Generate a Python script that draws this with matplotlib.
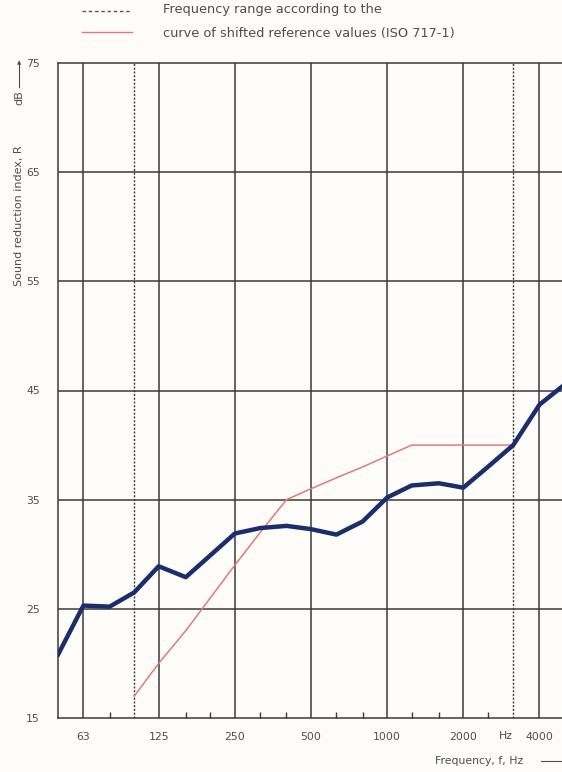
import numpy as np
import matplotlib.pyplot as plt
from matplotlib.ticker import FixedLocator, NullFormatter

# third-octave band centre frequencies, Hz
freqs = [50, 63, 80, 100, 125, 160, 200, 250, 315, 400, 500, 630, 800,
         1000, 1250, 1600, 2000, 2500, 3150, 4000, 5000]
# measured sound reduction index R, dB
r_meas = [20.8, 25.3, 25.2, 26.5, 28.9, 27.9, 29.9, 31.9, 32.4, 32.6, 32.3,
          31.8, 33.0, 35.2, 36.3, 36.5, 36.1, 38.0, 40.0, 43.7, 45.5]
# shifted reference curve (ISO 717-1), 100..3150 Hz
ref_freqs = [100, 125, 160, 200, 250, 315, 400, 500, 630, 800, 1000, 1250,
             1600, 2000, 2500, 3150]
r_ref = [17, 20, 23, 26, 29, 32, 35, 36, 37, 38, 39, 40, 40, 40, 40, 40]

octave_ticks = [63, 125, 250, 500, 1000, 2000, 4000]
octave_labels = ['63', '125', '250', '500', '1000', '2000', '4000']
third_ticks = [80, 160, 200, 315, 400, 630, 800, 1250, 1600, 2500]
range_limits = [100, 3150]
y_ticks = [15, 25, 35, 45, 55, 65, 75]

plt.rcParams['font.family'] = ['DejaVu Sans']
txt_col = '#4d4d4d'
grid_col = '#3a3a3a'
bg = '#fdfcf9'

fig = plt.figure(figsize=(5.62, 7.72), dpi=100)
fig.patch.set_facecolor(bg)
ax = fig.add_axes([58/562, 54/772, 506/562, 655/772])
ax.set_facecolor(bg)

ax.set_xscale('log')
ax.set_xlim(50, 5000)
ax.set_ylim(15, 75)

# grid
for f in octave_ticks:
    ax.axvline(f, color=grid_col, lw=1.1, zorder=1)
for y in y_ticks[1:-1]:
    ax.axhline(y, color=grid_col, lw=1.1, zorder=1)
for f in range_limits:
    ax.axvline(f, color=grid_col, lw=1.0, ls=(0, (1.5, 1.2)), zorder=1)

ax.plot(ref_freqs, r_ref, color='#e07a7a', lw=1.1, zorder=2)
ax.plot(freqs, r_meas, color='#1b2d6b', lw=3.2, zorder=3)

for s in ['left', 'bottom', 'top']:
    ax.spines[s].set_color(grid_col)
    ax.spines[s].set_linewidth(1.1)
ax.spines['right'].set_visible(False)

ax.xaxis.set_major_locator(FixedLocator(octave_ticks))
ax.set_xticklabels(octave_labels)
ax.xaxis.set_minor_locator(FixedLocator(third_ticks))
ax.xaxis.set_minor_formatter(NullFormatter())
ax.tick_params(axis='x', which='major', length=0, pad=10, labelsize=7.8, labelcolor=txt_col)
ax.tick_params(axis='x', which='minor', direction='in', length=4, width=1.0, color=grid_col)
ax.set_yticks(y_ticks)
ax.tick_params(axis='y', length=0, pad=13, labelsize=7.8, labelcolor=txt_col)

# axis labels
fig.text(506/562, 1 - 736/772, 'Hz', fontsize=7.8, color=txt_col, ha='center', va='center')
fig.text(435/562, 1 - 761/772, 'Frequency, f, Hz', fontsize=7.8, color=txt_col, ha='left', va='center')
fig.add_artist(plt.Line2D([541/562, 1.0], [1 - 761/772, 1 - 761/772], color=txt_col, lw=0.8))
fig.text(19/562, 1 - 216/772, 'Sound reduction index, R', fontsize=8, color=txt_col,
         rotation=90, ha='center', va='center')
fig.text(19/562, 1 - 98/772, 'dB', fontsize=8, color=txt_col, rotation=90, ha='center', va='center')
fig.add_artist(plt.Line2D([19/562, 19/562], [1 - 87/772, 1 - 64/772], color=txt_col, lw=0.8))
fig.text(19/562, 1 - 63/772, '\u25b2', fontsize=4, color=txt_col, ha='center', va='center')

# legend
fig.add_artist(plt.Line2D([82/562, 132/562], [1 - 11/772, 1 - 11/772], color='#555555', lw=1.0,
                          ls=(0, (2.5, 2))))
fig.text(163/562, 1 - 10/772, 'Frequency range according to the', fontsize=9.3, color=txt_col,
         ha='left', va='center')
fig.add_artist(plt.Line2D([82/562, 132/562], [1 - 32/772, 1 - 32/772], color='#e07a7a', lw=1.0))
fig.text(163/562, 1 - 33/772, 'curve of shifted reference values (ISO 717-1)', fontsize=9.3,
         color=txt_col, ha='left', va='center')

fig.savefig('out.png', dpi=100, facecolor=fig.get_facecolor())
